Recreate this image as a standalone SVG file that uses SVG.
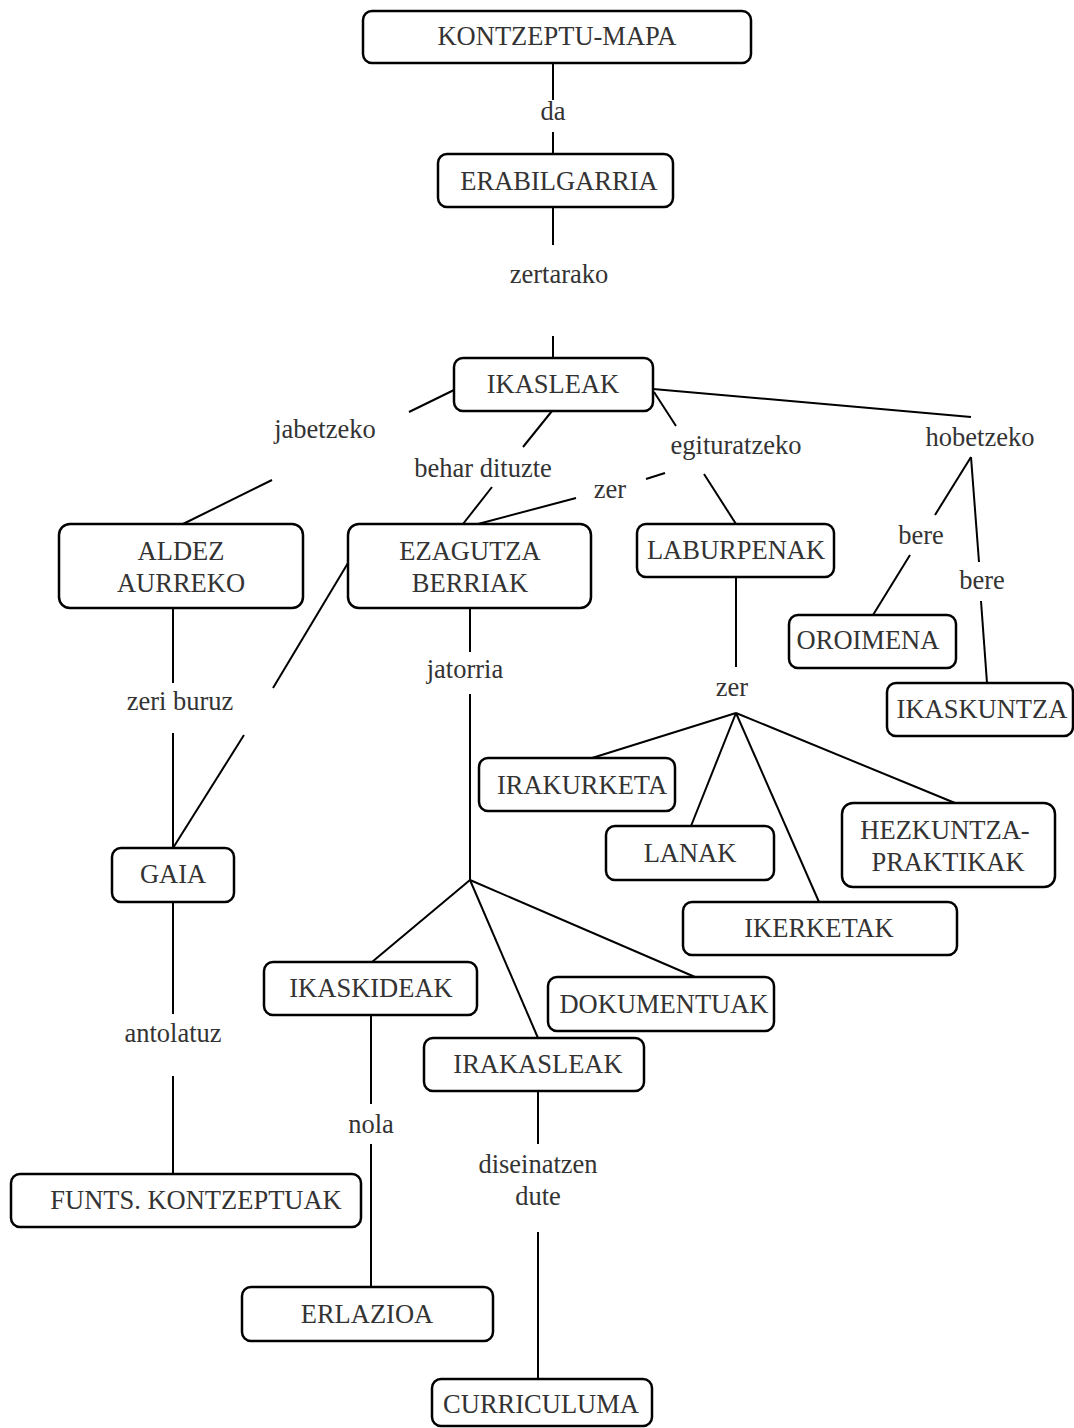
<svg xmlns="http://www.w3.org/2000/svg" width="1074" height="1428" viewBox="0 0 1074 1428">
<style>
.n rect{fill:#fff;stroke:#000;stroke-width:2.5}
text{font-family:"Liberation Serif","Times New Roman",serif;font-size:26.5px;fill:#333;text-anchor:middle}
#connectors line{stroke:#000;stroke-width:2;stroke-linecap:butt}
</style>
<rect width="1074" height="1428" fill="#fff"/>
<g id="connectors">
<line x1="553" y1="63" x2="553" y2="100"/>
<line x1="553" y1="132" x2="553" y2="154"/>
<line x1="553" y1="207" x2="553" y2="245"/>
<line x1="553" y1="336" x2="553" y2="358"/>
<line x1="454" y1="390" x2="409" y2="412"/>
<line x1="272" y1="480" x2="183" y2="524"/>
<line x1="552" y1="411" x2="523" y2="447"/>
<line x1="492" y1="487" x2="463" y2="524"/>
<line x1="654" y1="392" x2="676" y2="426"/>
<line x1="478" y1="524" x2="576" y2="498"/>
<line x1="646" y1="479" x2="665" y2="473"/>
<line x1="704" y1="474" x2="736" y2="524"/>
<line x1="653" y1="389" x2="971" y2="417"/>
<line x1="971" y1="457" x2="935" y2="515"/>
<line x1="910" y1="555" x2="873" y2="615"/>
<line x1="971" y1="457" x2="979" y2="562"/>
<line x1="981" y1="601" x2="987" y2="683"/>
<line x1="173" y1="608" x2="173" y2="683"/>
<line x1="173" y1="733" x2="173" y2="848"/>
<line x1="348" y1="563" x2="273" y2="688"/>
<line x1="244" y1="735" x2="173" y2="848"/>
<line x1="470" y1="608" x2="470" y2="652"/>
<line x1="470" y1="694" x2="470" y2="880"/>
<line x1="736" y1="577" x2="736" y2="667"/>
<line x1="736" y1="713" x2="592" y2="758"/>
<line x1="736" y1="713" x2="691" y2="826"/>
<line x1="736" y1="713" x2="819" y2="902"/>
<line x1="736" y1="713" x2="955" y2="803"/>
<line x1="173" y1="902" x2="173" y2="1014"/>
<line x1="173" y1="1076" x2="173" y2="1174"/>
<line x1="470" y1="880" x2="372" y2="962"/>
<line x1="470" y1="880" x2="538" y2="1038"/>
<line x1="470" y1="880" x2="695" y2="977"/>
<line x1="371" y1="1015" x2="371" y2="1104"/>
<line x1="371" y1="1144" x2="371" y2="1287"/>
<line x1="538" y1="1091" x2="538" y2="1144"/>
<line x1="538" y1="1232" x2="538" y2="1379"/>
</g>
<g id="labels">
<text x="553" y="120">da</text>
<text x="559" y="283">zertarako</text>
<text x="325" y="438">jabetzeko</text>
<text x="483" y="477">behar dituzte</text>
<text x="736" y="454">egituratzeko</text>
<text x="610" y="498">zer</text>
<text x="980" y="446">hobetzeko</text>
<text x="921" y="544">bere</text>
<text x="982" y="589">bere</text>
<text x="180" y="710">zeri buruz</text>
<text x="465" y="678">jatorria</text>
<text x="732" y="696">zer</text>
<text x="173" y="1042">antolatuz</text>
<text x="371" y="1133">nola</text>
<text x="538" y="1173">diseinatzen</text>
<text x="538" y="1205">dute</text>
</g>
<g id="n-kontzeptu" class="n"><rect x="363" y="11" width="388" height="52" rx="9"/><text x="557" y="45">KONTZEPTU-MAPA</text></g>
<g id="n-erabilgarria" class="n"><rect x="438" y="154" width="235" height="53" rx="9"/><text x="559" y="190">ERABILGARRIA</text></g>
<g id="n-ikasleak" class="n"><rect x="454" y="358" width="199" height="53" rx="9"/><text x="553" y="393">IKASLEAK</text></g>
<g id="n-aldez" class="n"><rect x="59" y="524" width="244" height="84" rx="11"/><text x="181" y="560">ALDEZ</text><text x="181" y="592">AURREKO</text></g>
<g id="n-ezagutza" class="n"><rect x="348" y="524" width="243" height="84" rx="11"/><text x="470" y="560">EZAGUTZA</text><text x="470" y="592">BERRIAK</text></g>
<g id="n-laburpenak" class="n"><rect x="637" y="524" width="197" height="53" rx="9"/><text x="736" y="559">LABURPENAK</text></g>
<g id="n-oroimena" class="n"><rect x="789" y="615" width="167" height="53" rx="9"/><text x="868" y="649">OROIMENA</text></g>
<g id="n-ikaskuntza" class="n"><rect x="887" y="683" width="186" height="53" rx="9"/><text x="982" y="718">IKASKUNTZA</text></g>
<g id="n-irakurketa" class="n"><rect x="479" y="758" width="196" height="53" rx="9"/><text x="582" y="794">IRAKURKETA</text></g>
<g id="n-lanak" class="n"><rect x="606" y="826" width="168" height="54" rx="9"/><text x="690" y="862">LANAK</text></g>
<g id="n-hezkuntza" class="n"><rect x="842" y="803" width="213" height="84" rx="11"/><text x="945" y="839">HEZKUNTZA-</text><text x="948" y="871">PRAKTIKAK</text></g>
<g id="n-ikerketak" class="n"><rect x="683" y="902" width="274" height="53" rx="9"/><text x="819" y="937">IKERKETAK</text></g>
<g id="n-gaia" class="n"><rect x="112" y="848" width="122" height="54" rx="9"/><text x="173" y="883">GAIA</text></g>
<g id="n-ikaskideak" class="n"><rect x="264" y="962" width="213" height="53" rx="9"/><text x="371" y="997">IKASKIDEAK</text></g>
<g id="n-dokumentuak" class="n"><rect x="548" y="977" width="226" height="54" rx="9"/><text x="664" y="1013">DOKUMENTUAK</text></g>
<g id="n-irakasleak" class="n"><rect x="424" y="1038" width="220" height="53" rx="9"/><text x="538" y="1073">IRAKASLEAK</text></g>
<g id="n-funts" class="n"><rect x="11" y="1174" width="350" height="53" rx="9"/><text x="196" y="1209">FUNTS. KONTZEPTUAK</text></g>
<g id="n-erlazioa" class="n"><rect x="242" y="1287" width="251" height="54" rx="9"/><text x="367" y="1323">ERLAZIOA</text></g>
<g id="n-curriculuma" class="n"><rect x="432" y="1379" width="220" height="47" rx="9"/><text x="541" y="1413">CURRICULUMA</text></g>
</svg>
